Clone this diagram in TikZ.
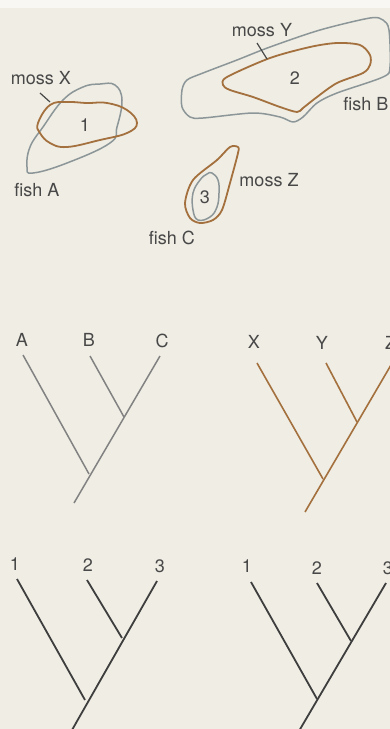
\documentclass[tikz,border=0pt]{standalone}
\usepackage{fontspec}
\setmainfont{TeX Gyre Heros}
\definecolor{bg}{RGB}{240,237,228}
\definecolor{bgtop}{RGB}{248,247,243}
\definecolor{mossbrown}{RGB}{163,112,62}
\definecolor{fishgrey}{RGB}{140,150,152}
\definecolor{treegrey}{RGB}{130,130,130}
\definecolor{treedark}{RGB}{62,62,62}
\definecolor{txt}{RGB}{72,72,72}
\tikzset{
  lbl/.style={font=\fontsize{18}{20}\selectfont, text=txt, inner sep=0pt},
  mosscurve/.style={draw=mossbrown, line width=1.8pt, line join=round},
  fishcurve/.style={draw=fishgrey, line width=1.5pt, line join=round},
  tick/.style={draw=txt, line width=1.2pt},
  branchgrey/.style={draw=treegrey, line width=1.5pt},
  branchbrown/.style={draw=mossbrown, line width=1.6pt},
  branchdark/.style={draw=treedark, line width=1.8pt}
}
\begin{document}
\begin{tikzpicture}[x=1pt,y=-1pt]
\useasboundingbox (0,0) rectangle (390,729);
\fill[bg] (0,0) rectangle (390,729);
\fill[bgtop] (0,0) rectangle (390,8);

% ---------- map ----------
% fish A
\draw[fishcurve] plot[smooth cycle, tension=0.7] coordinates {(83,87) (100,84) (115,85) (122,100) (117,127) (110,143) (67,163) (33,173) (27,167) (30,147) (43,127) (63,100)};
% moss X
\draw[mosscurve] plot[smooth cycle, tension=0.7] coordinates {(38,123) (50,105) (67,102) (87,103) (107,103) (127,110) (137,123) (127,133) (100,140) (67,147) (50,143) (40,133)};
% fish B
\draw[fishcurve] plot[smooth cycle, tension=0.5] coordinates {(182,90) (187,80) (203,73) (237,60) (270,47) (320,30) (370,18) (383,20) (389,30) (390,67) (383,77) (337,93) (317,103) (303,117) (293,122) (280,117) (253,113) (203,118) (190,117) (182,107)};
% moss Y
\draw[mosscurve] plot[smooth cycle, tension=0.5] coordinates {(223,85) (227,77) (270,58) (310,47) (337,43) (360,45) (370,55) (370,65) (363,73) (337,83) (317,97) (303,108) (297,112) (280,107) (253,97) (230,90)};
% fish C
\draw[fishcurve] plot[smooth cycle, tension=0.7] coordinates {(212,173) (218,180) (219,193) (217,207) (210,217) (198,220) (193,210) (193,193) (200,180) (207,174)};
% moss Z
\draw[mosscurve] plot[smooth cycle, tension=0.5] coordinates {(238,147) (230,147) (217,160) (193,180) (185,203) (190,218) (200,223) (213,220) (222,210) (230,183) (238,153)};

\node[lbl] (mossX) at (41,78) {moss X};
\node[lbl] (n1) at (85,125) {1};
\node[lbl] (fishA) at (37,190) {fish A};
\node[lbl] (mossY) at (262,30) {moss Y};
\node[lbl] (n2) at (295,78) {2};
\node[lbl] (fishB) at (366,104) {fish B};
\node[lbl] (mossZ) at (269,180) {moss Z};
\node[lbl] (n3) at (205,197) {3};
\node[lbl] (fishC) at (172,238) {fish C};

\coordinate (tx1) at (40,93);  \coordinate (tx2) at (50,102);
\coordinate (ty1) at (257,43); \coordinate (ty2) at (267,59);
\draw[tick] (tx1) -- (tx2);
\draw[tick] (ty1) -- (ty2);

% ---------- tree ABC ----------
\node[lbl] (tA) at (22,340) {A};
\node[lbl] (tB) at (89,340) {B};
\node[lbl] (tC) at (162,341) {C};
\coordinate (a0) at (23,355);  \coordinate (a1) at (89,474);
\coordinate (b0) at (90,356);  \coordinate (b1) at (124,417);
\coordinate (c0) at (160,356); \coordinate (c1) at (74,503);
\draw[branchgrey] (a0) -- (a1);
\draw[branchgrey] (b0) -- (b1);
\draw[branchgrey] (c0) -- (c1);

% ---------- tree XYZ ----------
\node[lbl] (tX) at (254,342) {X};
\node[lbl] (tY) at (322,343) {Y};
\node[lbl] (tZ) at (390.5,343) {Z};
\coordinate (x0) at (257,363); \coordinate (x1) at (323,479);
\coordinate (y0) at (326,363); \coordinate (y1) at (357,422);
\coordinate (z0) at (391,365); \coordinate (z1) at (305,512);
\draw[branchbrown] (x0) -- (x1);
\draw[branchbrown] (y0) -- (y1);
\draw[branchbrown] (z0) -- (z1);

% ---------- tree 123 left ----------
\node[lbl] (l1) at (15,564) {1};
\node[lbl] (l2) at (88,565) {2};
\node[lbl] (l3) at (160,566) {3};
\coordinate (p0) at (17,579);  \coordinate (p1) at (85,700);
\coordinate (q0) at (87,580);  \coordinate (q1) at (122,638);
\coordinate (r0) at (157,581); \coordinate (r1) at (72,730);
\draw[branchdark] (p0) -- (p1);
\draw[branchdark] (q0) -- (q1);
\draw[branchdark] (r0) -- (r1);

% ---------- tree 123 right ----------
\node[lbl] (m1) at (247,566) {1};
\node[lbl] (m2) at (317,568) {2};
\node[lbl] (m3) at (388,568) {3};
\coordinate (s0) at (251,582); \coordinate (s1) at (317,699);
\coordinate (t0) at (317,583); \coordinate (t1) at (351,641);
\coordinate (u0) at (386,583); \coordinate (u1) at (299,731);
\draw[branchdark] (s0) -- (s1);
\draw[branchdark] (t0) -- (t1);
\draw[branchdark] (u0) -- (u1);
\end{tikzpicture}
\end{document}
